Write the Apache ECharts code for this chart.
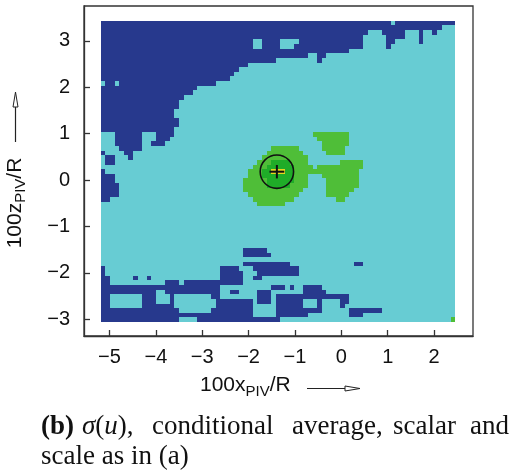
<!DOCTYPE html>
<html><head><meta charset="utf-8">
<script src="https://cdn.jsdelivr.net/npm/echarts@6/dist/echarts.min.js"></script>
<style>html,body{margin:0;padding:0;background:#fff}#c{width:509px;height:474px}</style>
</head><body><div id="c"></div>
<script>
// ---- data ----
const xTicks = [-5, -4, -3, -2, -1, 0, 1, 2];
const yTicks = [-3, -2, -1, 0, 1, 2, 3];
// field extent (data units) and grid size
const fieldX = [-5.19, 2.46];
const fieldY = [3.43, -3.06];
const nCols = 77;
// level codes: D = lowest (dark blue), C = cyan, G = green, K = dark green, Y = yellow (highest)
const levelCodes = ['D', 'C', 'G', 'K', 'Y'];
// rows from top (y = 3.43) to bottom, run-length encoded level codes
const fieldRows = [
  'D63C1D13','D74C3','D58C3D5C3D1C2D1C4','D57C5D4C3D1C7','D33C2D4C4D14C5D2C5D1C7',
  'D33C2D4C3D15C5D1C14','D54C23','D45C2D2C28','D38C9D1C29','D32C45',
  'D30C47','D29C48','D28C49','C1D2C1D21C52','D21C56',
  'D20C57','D18C59','D17C60','D17C60','D16C61',
  'D16C61','D17C60','D17C60','D16C61','C3D6C3D4C30G8C23',
  'C3D6C3D3C32G7C23','C3D6C2D3C34G6C23','C4D5C28G6C5G5C24','D1C4D2C29G8C5G4C24','C1D2C3D1C28G10C32',
  'C1D2C31G3K4G4C7G5C20','C33G3K6G4C1G10C20','D1C31G3K2Y3K2G14C21','D3C29G3K7G3C3G8C21','D3C28G5K6G3C4G7C21',
  'D4C27G5K5G4C4G7C21','D4C27G13C5G6C22','D4C28G11C6G5C23','D2C31G9C9G2C24','C34G6C37',
  'C77','C77','C77','C77','C77',
  'C77','C77','C77','C77','C31D5C41',
  'C31D6C40','C77','C31D10C14D2C20','D1C25D4C3D10C34','D1C25D5C3D9C34',
  'D2C5D1C2D1C15D5C2D2C42','D2C12D3C1D13C46','D26C11D3C1D1C2D4C29','D12C2D12C2D2C4D3C7D5C28','D2C7D3C3D1C8D2C8D3C1D16C23',
  'D2C7D3C3D1C9D8C1D3C1D6C3D1C4D2C23','D2C7D7C9D8C5D6C3D1C4D1C24','D17C7D9C5D10C6D7C16','D33C5D7C9D3C20','D17C4D18C37G1'
];
// probe location (circle + cross)
const probe = [[-1.39, 0.18]];
const probeRadius = 0.36;

// ---- build ----
const palette = ['#27398d', '#67ccd3', '#4fbe38', '#1fac28', '#e6d61e'];
const dx = (fieldX[1] - fieldX[0]) / nCols;
const dy = (fieldY[0] - fieldY[1]) / fieldRows.length;
const runs = [];
fieldRows.forEach((s, j) => {
  let col = 0;
  const re = /([A-Z])(\d+)/g; let m;
  while ((m = re.exec(s))) {
    const n = +m[2];
    runs.push([fieldX[0] + col * dx, fieldX[0] + (col + n) * dx,
               fieldY[0] - j * dy, fieldY[0] - (j + 1) * dy, levelCodes.indexOf(m[1])]);
    col += n;
  }
});

const chart = echarts.init(document.getElementById('c'), null, {renderer: 'canvas'});
const axisFont = 'Liberation Sans, Arial, sans-serif';
const serif = 'Liberation Serif, Times New Roman, serif';
const fmt = v => String(v).replace('-', '\u2212');
const frame = '#333';

chart.setOption({
  animation: false,
  grid: {left: 84, right: 36, top: 6, bottom: 138, show: true, borderColor: frame, borderWidth: 1.3, backgroundColor: 'transparent'},
  xAxis: {
    type: 'value', min: -5.55, max: 2.84,
    axisLine: {onZero: false, lineStyle: {color: frame, width: 1.3}},
    axisTick: {inside: true, length: 6, customValues: xTicks, lineStyle: {color: frame, width: 1.3}},
    axisLabel: {customValues: xTicks, formatter: fmt, fontFamily: axisFont, fontSize: 20, color: '#111', margin: 11},
    splitLine: {show: false}
  },
  yAxis: {
    type: 'value', min: -3.36, max: 3.75,
    axisLine: {onZero: false, lineStyle: {color: frame, width: 1.3}},
    axisTick: {inside: true, length: 6, customValues: yTicks, lineStyle: {color: frame, width: 1.3}},
    axisLabel: {customValues: yTicks, formatter: fmt, fontFamily: axisFont, fontSize: 20, color: '#111', margin: 14},
    splitLine: {show: false}
  },
  series: [
    {
      type: 'custom', data: runs, encode: {x: [0, 1], y: [2, 3]}, clip: true,
      renderItem: (params, api) => {
        const a = api.coord([api.value(0), api.value(2)]);
        const b = api.coord([api.value(1), api.value(3)]);
        const x = Math.round(a[0]), y = Math.round(a[1]);
        return {type: 'rect', shape: {x, y, width: Math.round(b[0]) - x, height: Math.round(b[1]) - y},
                style: {fill: palette[api.value(4)]}};
      }
    },
    {
      type: 'custom', data: probe, encode: {x: 0, y: 1}, z: 5,
      renderItem: (params, api) => {
        const c = api.coord([api.value(0), api.value(1)]);
        const r = api.size([probeRadius, 0])[0];
        const hx = api.size([0.16, 0])[0], hy = api.size([0, 0.145])[1];
        return {type: 'group', children: [
          {type: 'circle', shape: {cx: c[0], cy: c[1], r: r}, style: {fill: 'none', stroke: '#111', lineWidth: 1.6}},
          {type: 'line', shape: {x1: c[0] - hx, y1: c[1], x2: c[0] + hx, y2: c[1]}, style: {stroke: '#111', lineWidth: 2}},
          {type: 'line', shape: {x1: c[0], y1: c[1] - hy, x2: c[0], y2: c[1] + hy}, style: {stroke: '#111', lineWidth: 2}}
        ]};
      }
    }
  ],
  graphic: [
    // x axis title
    {type: 'text', left: 200, top: 375, style: {
      text: '{a|100x}{s|PIV}{a|/R}', fill: '#111',
      rich: {a: {fontFamily: axisFont, fontSize: 21, lineHeight: 27, verticalAlign: 'middle'},
             s: {fontFamily: axisFont, fontSize: 15, lineHeight: 27, verticalAlign: 'bottom'}}}},
    {type: 'line', shape: {x1: 307, y1: 388.5, x2: 352, y2: 388.5}, style: {stroke: '#222', lineWidth: 1.2}},
    {type: 'polygon', shape: {points: [[345, 386], [360, 388.5], [345, 391]]}, style: {fill: '#fff', stroke: '#222', lineWidth: 1}},
    // y axis title
    {type: 'text', x: 15, y: 203, rotation: Math.PI / 2, style: {
      text: '{a|100z}{s|PIV}{a|/R}', fill: '#111', align: 'center', verticalAlign: 'middle',
      rich: {a: {fontFamily: axisFont, fontSize: 21, lineHeight: 27, verticalAlign: 'middle'},
             s: {fontFamily: axisFont, fontSize: 15, lineHeight: 27, verticalAlign: 'bottom'}}}},
    {type: 'line', shape: {x1: 15.5, y1: 142, x2: 15.5, y2: 100}, style: {stroke: '#222', lineWidth: 1.2}},
    {type: 'polygon', shape: {points: [[13, 107], [15.5, 92], [18, 107]]}, style: {fill: '#fff', stroke: '#222', lineWidth: 1}},
    // caption
    {type: 'text', x: 41, y: 427, style: {text: '(b)', font: 'bold 27px ' + serif, fill: '#111', verticalAlign: 'middle'}},
    {type: 'text', x: 82, y: 427, style: {text: '{i|σ}{r|(}{i|u}{r|),}', fill: '#111', verticalAlign: 'middle',
      rich: {i: {fontFamily: serif, fontSize: 27, fontStyle: 'italic'}, r: {fontFamily: serif, fontSize: 27}}}},
    {type: 'text', x: 152, y: 427, style: {text: 'conditional', font: '27px ' + serif, fill: '#111', verticalAlign: 'middle'}},
    {type: 'text', x: 292, y: 427, style: {text: 'average,', font: '27px ' + serif, fill: '#111', verticalAlign: 'middle'}},
    {type: 'text', x: 393, y: 427, style: {text: 'scalar', font: '27px ' + serif, fill: '#111', verticalAlign: 'middle'}},
    {type: 'text', x: 470, y: 427, style: {text: 'and', font: '27px ' + serif, fill: '#111', verticalAlign: 'middle'}},
    {type: 'text', x: 41, y: 457, style: {text: 'scale as in (a)', font: '27px ' + serif, fill: '#111', verticalAlign: 'middle'}}
  ]
});
</script></body></html>
